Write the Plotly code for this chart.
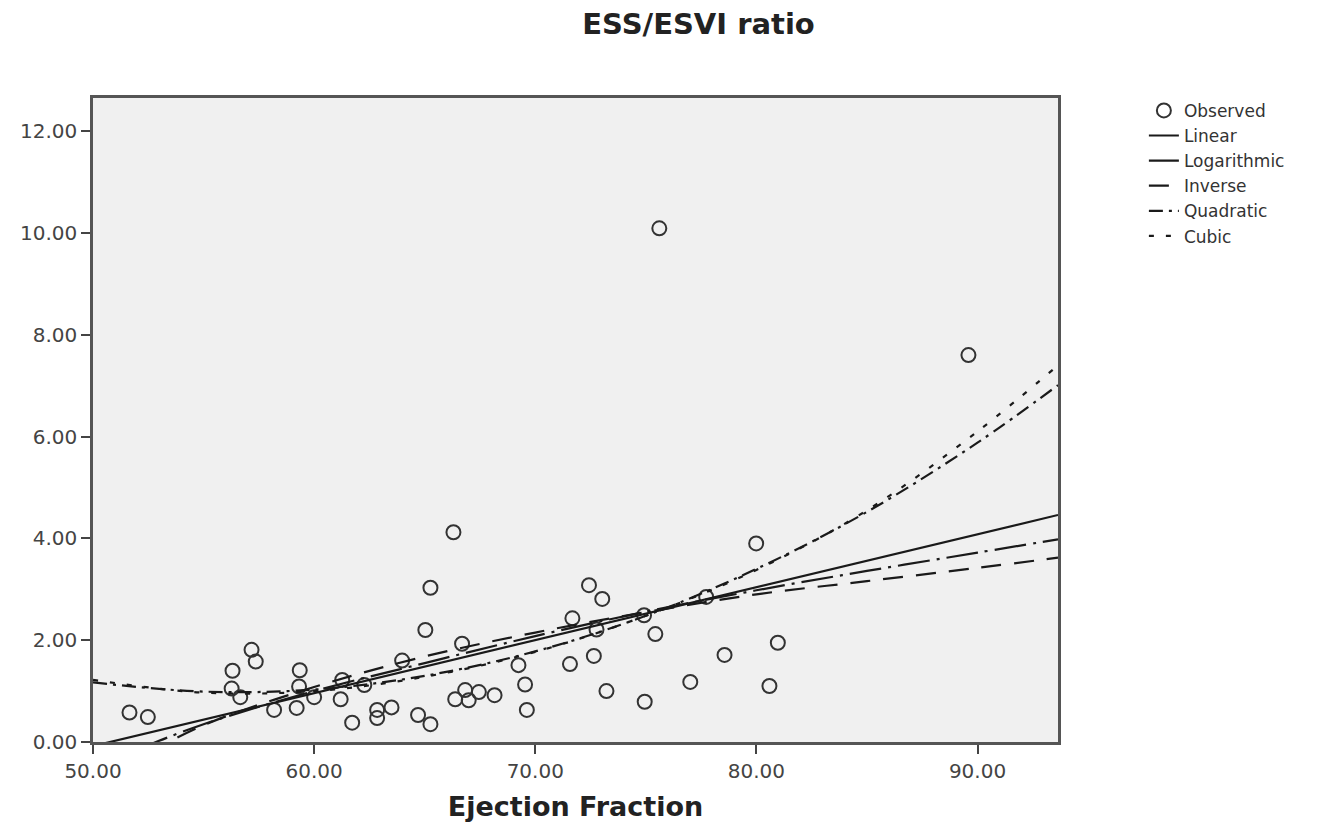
import plotly.graph_objects as go

ef = [51.65, 52.48, 56.31, 56.27, 56.66, 57.17, 57.36, 58.19, 59.35, 59.32,
      59.21, 60.00, 61.20, 61.27, 61.72, 62.27, 62.85, 62.85, 63.50, 63.98,
      64.70, 65.26, 65.03, 65.26, 66.30, 66.69, 66.38, 66.83, 66.99, 67.45,
      68.16, 69.24, 69.54, 69.62, 71.68, 71.57, 72.43, 73.03, 72.77, 72.65,
      73.22, 74.92, 75.43, 74.95, 75.61, 77.01, 77.73, 78.56, 79.99, 80.97,
      80.59, 89.59]
ratio = [0.58, 0.49, 1.40, 1.05, 0.88, 1.81, 1.58, 0.63, 1.41, 1.09,
         0.67, 0.88, 0.84, 1.22, 0.38, 1.12, 0.63, 0.47, 0.68, 1.60,
         0.53, 0.35, 2.20, 3.03, 4.12, 1.93, 0.84, 1.02, 0.82, 0.98,
         0.92, 1.51, 1.13, 0.63, 2.43, 1.53, 3.08, 2.81, 2.21, 1.69,
         1.00, 2.49, 2.12, 0.79, 10.09, 1.18, 2.85, 1.71, 3.90, 1.95,
         1.10, 7.60]

# Fitted curves, values
linear_x = [50.0, 93.64]
linear_y = [-0.08, 4.46]

log_x = [52.0, 55.0, 60.0, 65.0, 70.0, 75.0, 80.0, 85.0, 90.0, 93.64]
log_y = [-0.15, 0.35, 1.00, 1.55, 2.08, 2.56, 2.98, 3.36, 3.72, 3.98]

inv_x = [52.5, 55.0, 60.0, 65.0, 70.0, 75.0, 80.0, 85.0, 90.0, 93.64]
inv_y = [-0.22, 0.33, 1.08, 1.68, 2.15, 2.55, 2.90, 3.16, 3.42, 3.62]

quad_x = [50.0, 55.0, 60.0, 65.0, 70.0, 75.0, 80.0, 85.0, 90.0, 93.64]
quad_y = [1.17, 0.99, 1.03, 1.30, 1.78, 2.48, 3.40, 4.52, 5.88, 7.01]

cubic_x = [50.0, 55.0, 60.0, 65.0, 70.0, 75.0, 80.0, 85.0, 90.0, 93.64]
cubic_y = [1.22, 0.97, 1.00, 1.28, 1.77, 2.48, 3.38, 4.55, 6.10, 7.40]

x_ticks = [50, 60, 70, 80, 90]
y_ticks = [0, 2, 4, 6, 8, 10, 12]

LINE = "#1a1a1a"
FONT = "DejaVu Sans"

fig = go.Figure()
fig.add_trace(go.Scatter(
    x=ef, y=ratio, mode="markers", name="Observed",
    marker=dict(symbol="circle-open", size=14, color="#333333",
                line=dict(width=2, color="#333333")),
    cliponaxis=True,
))
fig.add_trace(go.Scatter(x=linear_x, y=linear_y, mode="lines", name="Linear",
                         line=dict(color=LINE, width=2.2, dash="solid")))
fig.add_trace(go.Scatter(x=log_x, y=log_y, mode="lines", name="Logarithmic",
                         line=dict(color=LINE, width=2.2, dash="32px,7px,3px,7px",
                                   shape="spline")))
fig.add_trace(go.Scatter(x=inv_x, y=inv_y, mode="lines", name="Inverse",
                         line=dict(color=LINE, width=2.2, dash="20px,13px",
                                   shape="spline")))
fig.add_trace(go.Scatter(x=quad_x, y=quad_y, mode="lines", name="Quadratic",
                         line=dict(color=LINE, width=2.2, dash="14px,6px,3px,6px",
                                   shape="spline")))
fig.add_trace(go.Scatter(x=cubic_x, y=cubic_y, mode="lines", name="Cubic",
                         line=dict(color=LINE, width=2.2, dash="5px,12px",
                                   shape="spline")))

fig.update_layout(
    width=1328, height=824,
    margin=dict(l=82, r=278, t=90, b=90),
    paper_bgcolor="white",
    plot_bgcolor="#f0f0f0",
    font=dict(family=FONT, color="#333333", size=17),
    title=dict(text="<b>ESS/ESVI ratio</b>", x=0.520, xref="container",
               xanchor="center", y=1 - 6 / 824, yref="container",
               yanchor="top", pad=dict(t=0, b=0),
               font=dict(family=FONT, size=29, color="#222222")),
    showlegend=True,
    legend=dict(x=1.089, y=1.008, xanchor="left", yanchor="top",
                bgcolor="rgba(0,0,0,0)", font=dict(family=FONT, size=17,
                                                     color="#333333"),
                tracegroupgap=0),
    xaxis=dict(range=[50, 93.64], tickvals=x_ticks, tickformat=".2f",
               showgrid=False, zeroline=False, showline=True,
               linecolor="#555555", linewidth=2.5, mirror=True,
               ticks="outside", ticklen=9, tickwidth=2, tickcolor="#444444",
               tickfont=dict(family=FONT, size=20, color="#444444"),
               title=dict(text="<b>Ejection Fraction</b>", standoff=16,
                          font=dict(family=FONT, size=27, color="#222222"))),
    yaxis=dict(range=[0, 12.65], tickvals=y_ticks, tickformat=".2f",
               showgrid=False, zeroline=False, showline=True,
               linecolor="#555555", linewidth=2.5, mirror=True,
               ticks="outside", ticklen=9, tickwidth=2, tickcolor="#444444",
               tickfont=dict(family=FONT, size=20, color="#444444")),
)

fig.write_html("out.html")
